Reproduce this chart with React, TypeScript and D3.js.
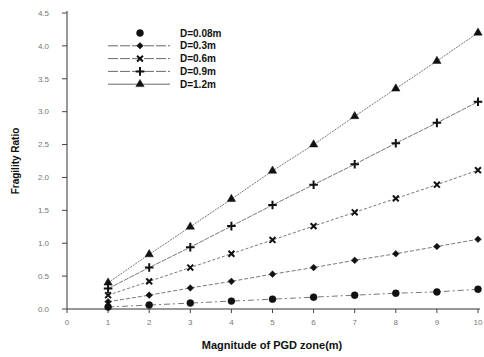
import * as d3 from "d3";

// PGD zone magnitude (m)
const pgd = [1, 2, 3, 4, 5, 6, 7, 8, 9, 10];

const seriesNames = ["D=0.08m", "D=0.3m", "D=0.6m", "D=0.9m", "D=1.2m"];
const d008 = [0.03, 0.06, 0.09, 0.12, 0.15, 0.18, 0.21, 0.24, 0.26, 0.3];
const d03 = [0.11, 0.21, 0.32, 0.42, 0.53, 0.63, 0.74, 0.84, 0.95, 1.06];
const d06 = [0.21, 0.42, 0.63, 0.84, 1.05, 1.26, 1.47, 1.68, 1.89, 2.11];
const d09 = [0.31, 0.63, 0.94, 1.26, 1.58, 1.89, 2.2, 2.52, 2.83, 3.15];
const d12 = [0.4, 0.83, 1.25, 1.67, 2.1, 2.5, 2.93, 3.35, 3.77, 4.2];
const allSeries = [d008, d03, d06, d09, d12];

const xTicks = [0, 1, 2, 3, 4, 5, 6, 7, 8, 9, 10];
const yTicks = [0, 0.5, 1, 1.5, 2, 2.5, 3, 3.5, 4, 4.5];

const width = 484;
const height = 357;
const margin = { top: 13, right: 6, bottom: 48, left: 67 };

const x = d3.scaleLinear().domain([0, 10]).range([margin.left, width - margin.right]);
const y = d3.scaleLinear().domain([0, 4.5]).range([height - margin.bottom, margin.top]);

// diamond drawn as a square turned 45°
const symbols = [d3.symbolCircle, d3.symbolSquare, d3.symbolTimes, d3.symbolPlus, d3.symbolTriangle];
const sizes = [38, 22, 24, 26, 30];
const rotate = [0, 45, 0, 0, 0];
const filled = [true, true, false, false, true];
const dashes = ["6 3 2 3", "4 2", "3 2", "5 1", "2 1"];

const line = d3.line<number>()
  .x((_, i) => x(pgd[i]))
  .y((v) => y(v));

function Marker({ k, cx, cy }: { k: number; cx: number; cy: number }) {
  const path = d3.symbol(symbols[k], sizes[k])() || "";
  return (
    <path
      d={path}
      transform={`translate(${cx},${cy}) rotate(${rotate[k]})`}
      fill={filled[k] ? "#111" : "none"}
      stroke="#111"
      strokeWidth={filled[k] ? 0.5 : 2}
    />
  );
}

export default function App() {
  const x0 = margin.left;
  const y0 = y(0);
  const font = "Arial, 'Liberation Sans', sans-serif";

  return (
    <div style={{ position: "absolute", left: 0, top: 0 }}>
      <svg width={width} height={height} style={{ display: "block", background: "#fff" }}>
        {/* axes */}
        <line x1={x0} x2={x0} y1={y(4.5) - 2} y2={y0} stroke="#333" strokeWidth={1} />
        <line x1={x0} x2={x(10) + 2} y1={y0} y2={y0} stroke="#333" strokeWidth={1} />

        {yTicks.map((t) => (
          <g key={`y${t}`}>
            <line x1={x0 - 5} x2={x0} y1={y(t)} y2={y(t)} stroke="#444" />
            <text x={x0 - 18} y={y(t)} dy="0.35em" textAnchor="end" fontSize={8} fill="#777" fontFamily={font}>
              {t.toFixed(1)}
            </text>
          </g>
        ))}

        {xTicks.map((t) => (
          <g key={`x${t}`}>
            <line x1={x(t)} x2={x(t)} y1={y0} y2={y0 + 4} stroke="#444" />
            <text x={x(t)} y={y0 + 16} textAnchor="middle" fontSize={8} fill="#777" fontFamily={font}>
              {t}
            </text>
          </g>
        ))}

        {/* series */}
        {allSeries.map((s, k) => (
          <g key={seriesNames[k]}>
            <path d={line(s) || ""} fill="none" stroke="#555" strokeWidth={0.8} strokeDasharray={dashes[k]} />
            {s.map((v, i) => (
              <Marker key={i} k={k} cx={x(pgd[i])} cy={y(v)} />
            ))}
          </g>
        ))}

        {/* legend */}
        {seriesNames.map((name, k) => {
          const ly = 33 + k * 12.8;
          return (
            <g key={`lg${name}`}>
              {k > 0 && (
                <line x1={108} x2={170} y1={ly} y2={ly} stroke="#444" strokeWidth={0.8} strokeDasharray={k === 4 ? "none" : "10 2"} />
              )}
              <Marker k={k} cx={140} cy={ly} />
              <text x={180} y={ly} dy="0.35em" fontSize={10} fontWeight="bold" fill="#111" fontFamily={font}>
                {name}
              </text>
            </g>
          );
        })}

        {/* axis titles */}
        <text
          transform={`translate(19,${(y(4.5) + y0) / 2}) rotate(-90)`}
          textAnchor="middle"
          fontSize={10}
          fontWeight="bold"
          fontFamily="'Liberation Sans Narrow', Arial, sans-serif"
          fill="#111"
        >
          Fragility Ratio
        </text>
        <text x={272} y={349} textAnchor="middle" fontSize={11} fontWeight="bold" fill="#111" fontFamily={font}>
          Magnitude of PGD zone(m)
        </text>
      </svg>
    </div>
  );
}
